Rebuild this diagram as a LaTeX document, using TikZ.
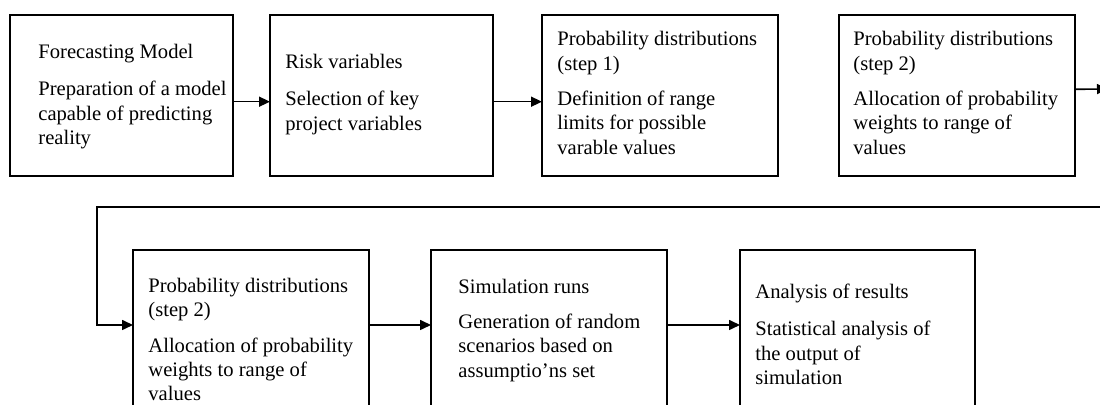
\documentclass[tikz,border=0pt]{standalone}
\usepackage{fontspec}
\setmainfont{Liberation Serif}
\usetikzlibrary{positioning,arrows.meta}
\tikzset{
  stepbox/.style={draw, line width=0.8pt, minimum height=80.5pt, inner sep=0pt, outer sep=0pt},
  steptext/.style={align=left, inner sep=0pt, font=\fontsize{10.3pt}{12.2pt}\selectfont},
  flow/.style={line width=0.8pt, -{Triangle[length=5.5pt,width=5pt]}}
}

\begin{document}
\begin{tikzpicture}[x=0.5pt,y=-0.5pt]
    \clip (0,0) rectangle (1100,405);
%   first row
    \node[stepbox, minimum width=111.5pt] (fm) at (121.5,95.5) {};
    \node[stepbox, minimum width=111.5pt] (rv) at (381.5,95.5) {};
    \node[stepbox, minimum width=118pt] (pd1) at (660,95.5) {};
    \node[stepbox, minimum width=118pt] (pd2) at (957,95.5) {};
%   second row
    \node[stepbox, minimum width=118pt] (pd2b) at (251,330.5) {};
    \node[stepbox, minimum width=118pt] (sim) at (549,330.5) {};
    \node[stepbox, minimum width=117.5pt] (res) at (857.5,330.5) {};

    \node[steptext, right=14pt of fm.west, yshift=-0.5pt] (fm-t)
        {Forecasting Model\\[6.5pt]Preparation of a model\\capable of predicting\\reality};
    \node[steptext, right=7.5pt of rv.west, yshift=0.5pt] (rv-t)
        {Risk variables\\[6.5pt]Selection of key\\project variables};
    \node[steptext, right=7.5pt of pd1.west, yshift=1.25pt] (pd1-t)
        {Probability distributions\\(step 1)\\[5.5pt]Definition of range\\limits for possible\\varable values};
    \node[steptext, right=7pt of pd2.west, yshift=1.25pt] (pd2-t)
        {Probability distributions\\(step 2)\\[5.5pt]Allocation of probability\\weights to range of\\values};
    \node[steptext, right=7.5pt of pd2b.west, yshift=-4.5pt] (pd2b-t)
        {Probability distributions\\(step 2)\\[5.5pt]Allocation of probability\\weights to range of\\values};
    \node[steptext, right=13.5pt of sim.west, yshift=0pt] (sim-t)
        {Simulation runs\\[5pt]Generation of random\\scenarios based on\\assumptio'ns set};
    \node[steptext, right=7.5pt of res.west, yshift=-2pt] (res-t)
        {Analysis of results\\[6.5pt]Statistical analysis of\\the output of\\simulation};

    \coordinate (out) at (1108,89);
    \coordinate (back) at (1110,207);
    \coordinate (turn) at (97,207);

    \draw[flow] ([yshift=-3.1pt]fm.east) -- ([yshift=-3.1pt]rv.west);
    \draw[flow] ([yshift=-3.1pt]rv.east) -- ([yshift=-3.1pt]pd1.west);
    \draw[flow] ([yshift=3.1pt]pd2.east) -- (out);
    \draw[flow] (back) -- (turn) |- ([yshift=2.75pt]pd2b.west);
    \draw[flow] ([yshift=2.75pt]pd2b.east) -- ([yshift=2.75pt]sim.west);
    \draw[flow] ([yshift=2.75pt]sim.east) -- ([yshift=2.75pt]res.west);
\end{tikzpicture}
\end{document}
